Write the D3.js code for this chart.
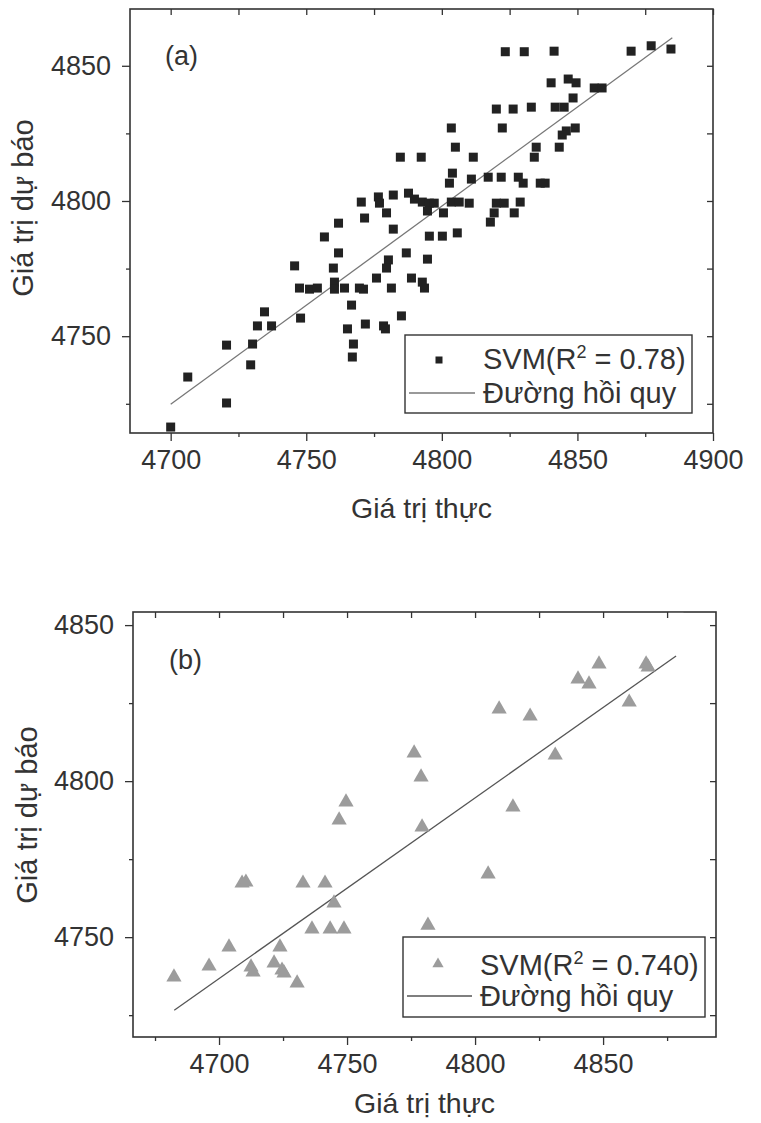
<!DOCTYPE html>
<html>
<head>
<meta charset="utf-8">
<script src="https://cdn.jsdelivr.net/npm/d3@7"></script>
<style>
  body { margin: 0; background: #ffffff; }
  text { font-family: "Liberation Sans", Arial, sans-serif; fill: #333; }
</style>
</head>
<body>
<svg id="chart" width="761" height="1123"></svg>
<script>
// ---------- DATA ----------
// Panel (a): SVM predictions (squares)
const svmAX = [4823.4,4830.4,4841.4,4869.8,4877.2,4884.5,4840.3,4846.6,4849.5,4856.2,4859.1,4848.4,
  4820.1,4826.3,4833.0,4841.8,4845.1,4803.5,4822.3,4849.2,4845.9,4844.4,4805.0,4834.8,4843.3,4811.6,
  4834.1,4792.4,4784.7,4803.9,4802.8,4810.9,4817.1,4821.9,4828.2,4830.0,4836.3,4838.1,4792.8,4795.4,
  4797.2,4794.7,4800.6,4803.5,4806.4,4810.1,4820.1,4823.0,4819.3,4817.9,4828.9,4826.7,4795.4,4800.2,
  4805.7,4770.3,4776.6,4782.1,4787.7,4789.9,4777.0,4779.6,4761.9,4771.5,4782.1,4756.7,4761.9,4786.9,
  4794.7,4745.7,4760.0,4780.3,4779.6,4775.9,4788.8,4792.8,4793.6,4747.5,4751.2,4754.1,4760.4,4760.4,
  4764.1,4769.6,4771.1,4781.4,4766.7,4747.9,4785.1,4734.6,4732.0,4737.2,4765.2,4771.8,4778.5,4779.2,
  4720.6,4730.2,4767.4,4767.0,4729.5,4706.3,4720.6,4700.0];
const svmAY = [4855.2,4855.2,4855.4,4855.4,4857.4,4856.2,4843.7,4845.1,4843.7,4841.8,4841.8,4838.1,
  4834.0,4834.0,4834.7,4834.7,4834.7,4827.0,4827.0,4827.0,4825.9,4824.4,4819.9,4819.9,4819.9,4816.2,
  4816.2,4816.2,4816.2,4810.3,4806.6,4808.1,4808.8,4808.8,4808.8,4806.6,4806.6,4806.6,4799.6,4799.2,
  4799.2,4796.3,4795.6,4799.6,4799.6,4799.2,4799.2,4799.2,4795.6,4792.2,4799.6,4795.6,4787.0,4787.0,
  4788.2,4799.6,4801.5,4802.2,4802.9,4800.7,4799.2,4795.6,4791.8,4793.7,4789.6,4786.7,4780.8,4780.8,
  4778.5,4776.0,4775.2,4778.2,4775.2,4771.5,4771.5,4770.0,4767.8,4767.8,4767.4,4767.8,4770.0,4767.4,
  4767.8,4767.8,4767.4,4767.8,4761.5,4756.7,4757.5,4759.0,4753.8,4753.8,4752.7,4754.5,4753.8,4752.7,
  4746.7,4747.1,4747.1,4742.3,4739.4,4734.9,4725.3,4716.4];
// Panel (a): regression line end points
const fitAX = [4700.0, 4885.0];
const fitAY = [4724.8, 4860.4];

// Panel (b): SVM predictions (triangles)
const svmBX = [4682.4,4696.1,4703.9,4709.0,4710.5,4712.5,4713.3,4721.5,4723.8,4724.6,4725.4,4730.5,
  4732.8,4736.3,4741.4,4743.4,4744.9,4746.9,4748.8,4749.6,4776.2,4778.9,4779.3,4781.6,4805.1,4809.4,
  4814.8,4821.5,4831.3,4840.2,4844.5,4848.4,4860.2,4866.8,4867.6,4878.5];
const svmBY = [4737.2,4740.7,4746.8,4767.3,4767.6,4740.4,4738.8,4741.7,4746.8,4739.4,4738.5,4735.3,
  4767.3,4752.6,4767.3,4752.6,4760.9,4787.5,4752.6,4793.3,4809.0,4801.3,4785.3,4753.8,4770.2,4823.1,
  4791.7,4820.8,4808.3,4832.7,4831.1,4837.5,4825.3,4837.5,4836.5,4855.5];
// Panel (b): regression line end points
const fitBX = [4682.5, 4878.5];
const fitBY = [4726.6, 4840.1];

// Axis ticks
const xTicksA = [4700, 4750, 4800, 4850, 4900];
const xMinorA = [4725, 4775, 4825, 4875];
const yTicksA = [4750, 4800, 4850];
const yMinorA = [4725, 4775, 4825];
const xTicksB = [4700, 4750, 4800, 4850];
const xMinorB = [4675, 4725, 4775, 4825, 4875];
const yTicksB = [4750, 4800, 4850];
const yMinorB = [4725, 4775, 4825];

// Texts
const panelLabels = ["(a)", "(b)"];
const xTitle = "Giá trị thực";
const yTitle = "Giá trị dự báo";
const legendSeriesA = ["SVM(R", "2", " = 0.78)"];
const legendSeriesB = ["SVM(R", "2", " = 0.740)"];
const legendLine = "Đường hồi quy";

// ---------- DRAWING ----------
const svg = d3.select("#chart");
const INK = "#333";

function drawPanel(cfg) {
  const g = svg.append("g");
  const x = d3.scaleLinear().domain(cfg.xDomain).range([cfg.left, cfg.right]);
  const y = d3.scaleLinear().domain(cfg.yDomain).range([cfg.bottom, cfg.top]);

  const clipId = "clip" + cfg.id;
  svg.append("defs").append("clipPath").attr("id", clipId)
    .append("rect").attr("x", cfg.left).attr("y", cfg.top)
    .attr("width", cfg.right - cfg.left).attr("height", cfg.bottom - cfg.top);

  const styleAxis = sel => {
    sel.select(".domain").remove();
    sel.selectAll("line").attr("stroke", INK).attr("stroke-width", 1.3);
    sel.selectAll("text").attr("font-size", 27).attr("fill", INK)
      .attr("font-family", '"Liberation Sans", Arial, sans-serif');
  };

  // bottom axis (outward ticks)
  g.append("g").attr("transform", `translate(0,${cfg.bottom})`)
    .call(d3.axisBottom(x).tickValues(cfg.xTicks).tickSize(8).tickPadding(9).tickFormat(d3.format("d")))
    .call(styleAxis);
  g.append("g").attr("transform", `translate(0,${cfg.bottom})`)
    .call(d3.axisBottom(x).tickValues(cfg.xMinor).tickSize(4).tickFormat(""))
    .call(styleAxis);
  // top axis (inward ticks)
  g.append("g").attr("transform", `translate(0,${cfg.top})`)
    .call(d3.axisTop(x).tickValues(cfg.xTicks.concat(cfg.xMinor)).tickSize(-6).tickFormat(""))
    .call(styleAxis);
  // left axis (outward ticks)
  g.append("g").attr("transform", `translate(${cfg.left},0)`)
    .call(d3.axisLeft(y).tickValues(cfg.yTicks).tickSize(8).tickPadding(11).tickFormat(d3.format("d")))
    .call(styleAxis);
  g.append("g").attr("transform", `translate(${cfg.left},0)`)
    .call(d3.axisLeft(y).tickValues(cfg.yMinor).tickSize(4).tickFormat(""))
    .call(styleAxis);
  // right axis (inward ticks)
  g.append("g").attr("transform", `translate(${cfg.right},0)`)
    .call(d3.axisRight(y).tickValues(cfg.yTicks.concat(cfg.yMinor)).tickSize(-6).tickFormat(""))
    .call(styleAxis);

  // frame
  g.append("rect").attr("x", cfg.left).attr("y", cfg.top)
    .attr("width", cfg.right - cfg.left).attr("height", cfg.bottom - cfg.top)
    .attr("fill", "none").attr("stroke", INK).attr("stroke-width", 1.6);

  const plot = g.append("g").attr("clip-path", `url(#${clipId})`);

  // regression line
  plot.append("path")
    .datum(d3.zip(cfg.fitX, cfg.fitY))
    .attr("d", d3.line().x(d => x(d[0])).y(d => y(d[1])))
    .attr("fill", "none").attr("stroke", cfg.lineColor).attr("stroke-width", 1.3);

  // points
  const pts = d3.zip(cfg.px, cfg.py);
  if (cfg.marker === "square") {
    const s = 9;
    plot.selectAll("rect.pt").data(pts).join("rect").attr("class", "pt")
      .attr("x", d => x(d[0]) - s / 2).attr("y", d => y(d[1]) - s / 2)
      .attr("width", s).attr("height", s).attr("fill", cfg.markerColor);
  } else {
    const sym = d3.symbol(d3.symbolTriangle, 100);
    plot.selectAll("path.pt").data(pts).join("path").attr("class", "pt")
      .attr("transform", d => `translate(${x(d[0])},${y(d[1])})`)
      .attr("d", sym).attr("fill", cfg.markerColor);
  }

  // panel label
  g.append("text").attr("x", cfg.left + cfg.labelDx).attr("y", cfg.top + cfg.labelDy)
    .attr("font-size", 27).attr("fill", INK).text(cfg.label);

  // axis titles
  g.append("text").attr("x", (cfg.left + cfg.right) / 2).attr("y", cfg.xTitleY)
    .attr("text-anchor", "middle").attr("font-size", 28.5).attr("fill", INK).text(xTitle);
  g.append("text")
    .attr("transform", `translate(${cfg.yTitleX},${cfg.yTitleY}) rotate(-90)`)
    .attr("text-anchor", "middle").attr("font-size", 29).attr("fill", INK).text(yTitle);

  // legend
  const L = cfg.legend;
  const lg = g.append("g");
  lg.append("rect").attr("x", L.x).attr("y", L.y).attr("width", L.w).attr("height", L.h)
    .attr("fill", "#fff").attr("stroke", INK).attr("stroke-width", 1.4);
  if (cfg.marker === "square") {
    lg.append("rect").attr("x", L.symX - 3.5).attr("y", L.row1 - 3.5 - 9).attr("width", 7).attr("height", 7)
      .attr("fill", cfg.markerColor);
  } else {
    lg.append("path").attr("transform", `translate(${L.symX},${L.row1 - 11})`)
      .attr("d", d3.symbol(d3.symbolTriangle, 55)).attr("fill", cfg.markerColor);
  }
  lg.append("line").attr("x1", L.x + 4).attr("x2", L.textX - 8)
    .attr("y1", L.row2 - 10).attr("y2", L.row2 - 10)
    .attr("stroke", cfg.lineColor).attr("stroke-width", 1.3);
  const t1 = lg.append("text").attr("x", L.textX).attr("y", L.row1).attr("font-size", 29).attr("fill", INK);
  t1.append("tspan").text(cfg.legendText[0]);
  t1.append("tspan").attr("dy", -11).attr("font-size", 18).text(cfg.legendText[1]);
  t1.append("tspan").attr("dy", 11).text(cfg.legendText[2]);
  lg.append("text").attr("x", L.textX).attr("y", L.row2).attr("font-size", 29).attr("fill", INK)
    .text(legendLine);
}

drawPanel({
  id: "A", left: 130, right: 713, top: 9, bottom: 433,
  xDomain: [4685, 4900], yDomain: [4714.2, 4871],
  xTicks: xTicksA, xMinor: xMinorA, yTicks: yTicksA, yMinor: yMinorA,
  px: svmAX, py: svmAY, fitX: fitAX, fitY: fitAY,
  marker: "square", markerColor: "#222", lineColor: "#777",
  label: panelLabels[0], labelDx: 35, labelDy: 56,
  xTitleY: 518, yTitleX: 33, yTitleY: 208,
  legendText: legendSeriesA,
  legend: { x: 405, y: 335, w: 287, h: 78, symX: 439, textX: 483, row1: 369, row2: 403 }
});

drawPanel({
  id: "B", left: 133, right: 716, top: 612, bottom: 1037,
  xDomain: [4666.4, 4894.1], yDomain: [4718, 4854.2],
  xTicks: xTicksB, xMinor: xMinorB, yTicks: yTicksB, yMinor: yMinorB,
  px: svmBX, py: svmBY, fitX: fitBX, fitY: fitBY,
  marker: "triangle", markerColor: "#9c9c9c", lineColor: "#555",
  label: panelLabels[1], labelDx: 36, labelDy: 57,
  xTitleY: 1113, yTitleX: 37, yTitleY: 815,
  legendText: legendSeriesB,
  legend: { x: 403, y: 937, w: 302, h: 80, symX: 438, textX: 480, row1: 975, row2: 1006 }
});
</script>
</body>
</html>
